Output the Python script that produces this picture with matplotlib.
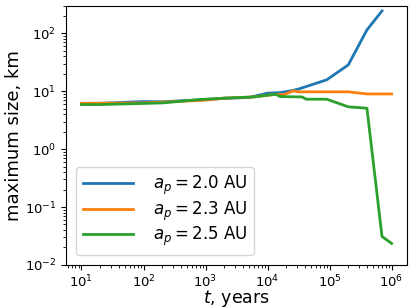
import numpy as np
import matplotlib
matplotlib.use("Agg")
import matplotlib.pyplot as plt

t_20 = [10, 20, 100, 200, 1000, 2000, 5000, 10000, 16000, 25000, 32000, 90000, 200000, 400000, 700000]
s_20 = [6.2, 6.2, 6.65, 6.6, 7.2, 7.6, 7.8, 9.3, 9.5, 10.3, 11.0, 15.8, 28.6, 115, 245]

t_23 = [10, 100, 200, 950, 2000, 6000, 13500, 18000, 26000, 31000, 200000, 400000, 1000000]
s_23 = [6.2, 6.3, 6.5, 7.0, 7.6, 8.0, 8.9, 8.7, 10.2, 9.8, 9.8, 9.0, 9.0]

t_25 = [10, 20, 200, 800, 2000, 6000, 13500, 16000, 36000, 42000, 90000, 200000, 400000, 700000, 1000000]
s_25 = [5.9, 5.9, 6.3, 7.2, 7.6, 8.0, 8.9, 8.1, 8.0, 7.3, 7.3, 5.4, 5.1, 0.031, 0.0235]

labels = [r"$a_p = 2.0$ AU", r"$a_p = 2.3$ AU", r"$a_p = 2.5$ AU"]

fig = plt.figure(figsize=(4.15, 3.08), dpi=100)
ax = fig.add_axes([0.159, 0.140, 0.822, 0.841])

ax.plot(t_20, s_20, color="C0", lw=2, label=labels[0])
ax.plot(t_23, s_23, color="C1", lw=2, label=labels[1])
ax.plot(t_25, s_25, color="C2", lw=2, label=labels[2])

ax.set_xscale("log")
ax.set_yscale("log")
ax.set_ylim(1e-2, 3e2)
ax.tick_params(labelsize=9.5)
ax.tick_params(axis="x", pad=2.5)
ax.set_xlabel(r"$t$, years", fontsize=12.5, labelpad=-1.5)
ax.set_ylabel("maximum size, km", fontsize=13, labelpad=1)
ax.legend(loc="lower left", fontsize=12, handlelength=3, handletextpad=1.2,
          labelspacing=0.15, borderaxespad=0.6)

fig.savefig("out.png", dpi=100)
